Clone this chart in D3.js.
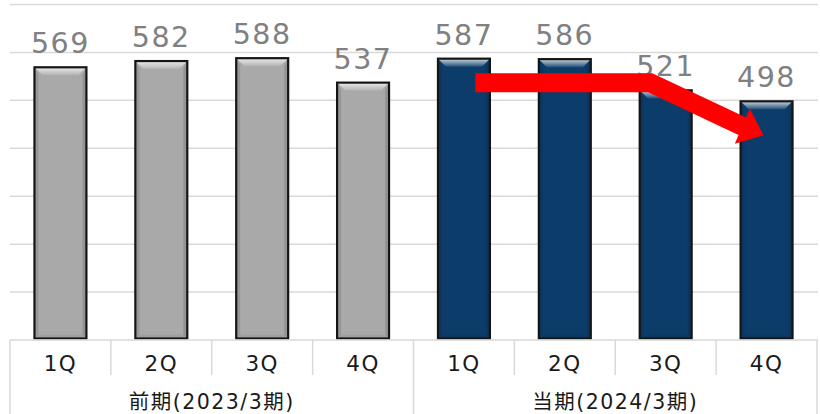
<!DOCTYPE html>
<html>
<head>
<meta charset="utf-8">
<script src="https://cdn.jsdelivr.net/npm/d3@7"></script>
<style>
  html, body { margin: 0; padding: 0; background: #fff; }
  svg { display: block; }
  text { font-family: "DejaVu Sans", "Noto Sans CJK JP", sans-serif; }
</style>
</head>
<body>
<svg id="chart" width="820" height="414"></svg>
<script>
// Quarterly figures, previous fiscal year vs. current fiscal year
const quarters = ["1Q", "2Q", "3Q", "4Q", "1Q", "2Q", "3Q", "4Q"];
const periods = ["前期(2023/3期)", "当期(2024/3期)"];
const prevValues = [569, 582, 588, 537];
const currValues = [587, 586, 521, 498];
const yTicks = [100, 200, 300, 400, 500, 600, 700];

const values = prevValues.concat(currValues);
const bars = values.map((v, i) => ({ i, v, group: i < prevValues.length ? 0 : 1 }));

const svg = d3.select("#chart");
const plotLeft = 10, plotRight = 817, plotBase = 340, plotTop = 4.5;

const x = d3.scaleBand().domain(d3.range(values.length)).range([plotLeft, plotRight])
  .paddingInner(0.485).paddingOuter(0.2425);
const y = d3.scaleLinear().domain([0, 700]).range([plotBase, plotTop]);
const step = x.step();
const bw = x.bandwidth();

// Gradients for the bevelled bar faces
const defs = svg.append("defs");
const topGrad = defs.append("linearGradient").attr("id", "bevelTop")
  .attr("x1", 0).attr("y1", 0).attr("x2", 0).attr("y2", 1);
topGrad.append("stop").attr("offset", "0%").attr("stop-color", "#fff").attr("stop-opacity", 0.8);
topGrad.append("stop").attr("offset", "100%").attr("stop-color", "#fff").attr("stop-opacity", 0.1);

// Horizontal gridlines
svg.append("g").selectAll("line").data(yTicks).join("line")
  .attr("x1", plotLeft).attr("x2", plotRight + 1)
  .attr("y1", d => y(d)).attr("y2", d => y(d))
  .attr("stroke", "#d9d9d9").attr("stroke-width", 1.5);

// Bars
const fills = ["#a9a9a9", "#0c3d6a"];
const bevel = 8;
const barG = svg.append("g").selectAll("g").data(bars).join("g");
barG.each(function (d) {
  const g = d3.select(this);
  const x0 = x(d.i), x1 = x0 + bw, y0 = y(d.v), y1 = plotBase - 1.5;
  g.append("rect").attr("x", x0).attr("y", y0).attr("width", bw).attr("height", y1 - y0)
    .attr("fill", fills[d.group]);
  const b = bevel;
  // top highlight
  g.append("polygon")
    .attr("points", [[x0, y0], [x1, y0], [x1 - b, y0 + b], [x0 + b, y0 + b]].join(" "))
    .attr("fill", "url(#bevelTop)");
  // side shading
  g.append("polygon")
    .attr("points", [[x0, y0], [x0 + b * 0.5, y0 + b], [x0 + b * 0.5, y1 - b * 0.5], [x0, y1]].join(" "))
    .attr("fill", "#000").attr("opacity", 0.1);
  g.append("polygon")
    .attr("points", [[x1, y0], [x1 - b * 0.5, y0 + b], [x1 - b * 0.5, y1 - b * 0.5], [x1, y1]].join(" "))
    .attr("fill", "#000").attr("opacity", 0.12);
  // bottom shading
  g.append("polygon")
    .attr("points", [[x0, y1], [x0 + b * 0.5, y1 - b * 0.5], [x1 - b * 0.5, y1 - b * 0.5], [x1, y1]].join(" "))
    .attr("fill", "#000").attr("opacity", 0.06);
  // outline
  g.append("rect").attr("x", x0).attr("y", y0).attr("width", bw).attr("height", y1 - y0)
    .attr("fill", "none").attr("stroke", "#151515").attr("stroke-width", 2.2);
});

// Baseline
svg.append("line").attr("x1", plotLeft).attr("x2", plotRight + 1).attr("y1", plotBase).attr("y2", plotBase)
  .attr("stroke", "#d9d9d9").attr("stroke-width", 1.5);

// Category dividers: short between quarters, full height at period boundaries
const nPer = prevValues.length;
const divs = d3.range(values.length + 1).map(k => ({
  k, xp: plotLeft + k * step, full: k % nPer === 0
}));
svg.append("g").selectAll("line").data(divs).join("line")
  .attr("x1", d => d.xp).attr("x2", d => d.xp)
  .attr("y1", plotBase).attr("y2", d => d.full ? 414 : 375)
  .attr("stroke", "#d9d9d9").attr("stroke-width", 1.5);

// Quarter labels
svg.append("g").selectAll("text").data(quarters).join("text")
  .attr("x", (d, i) => x(i) + bw / 2).attr("y", 371)
  .attr("text-anchor", "middle").attr("font-size", 21.5).attr("letter-spacing", 1.5)
  .attr("fill", "#1a1a1a")
  .text(d => d);

// Period labels
svg.append("g").selectAll("text").data(periods).join("text")
  .attr("x", (d, i) => plotLeft + (i * nPer + nPer / 2) * step).attr("y", 409)
  .attr("text-anchor", "middle").attr("font-size", 20.5).attr("letter-spacing", 1.5)
  .attr("fill", "#1a1a1a")
  .text(d => d);

// Value labels above bars
svg.append("g").selectAll("text").data(bars).join("text")
  .attr("x", d => x(d.i) + bw / 2).attr("y", d => y(d.v) - 14)
  .attr("text-anchor", "middle").attr("font-size", 28.5).attr("letter-spacing", 1.5)
  .attr("fill", "#808080")
  .text(d => d.v);

// Red trend arrow across the current period
const a0x = x(4) + bw * 0.72, a0y = y(currValues[0]) + 24;
const bendX = x(6) + bw * 0.2;
const tipX = x(7) + bw * 0.44, tipY = y(currValues[3]) + 34;
const ang = Math.atan2(tipY - a0y, tipX - bendX) * 0.93;
const headLen = 23, headHalf = 19;
const dx = Math.cos(ang), dy = Math.sin(ang);
const baseX = tipX - dx * headLen, baseY = tipY - dy * headLen;
const arrow = svg.append("g");
arrow.append("path")
  .attr("d", d3.line()([[a0x, a0y], [bendX, a0y], [baseX + dx * 2, baseY + dy * 2]]))
  .attr("fill", "none").attr("stroke", "#ff0000").attr("stroke-width", 19)
  .attr("stroke-linejoin", "miter");
arrow.append("polygon")
  .attr("points", [[tipX, tipY], [baseX - dy * headHalf, baseY + dx * headHalf],
                   [baseX + dy * headHalf, baseY - dx * headHalf]].join(" "))
  .attr("fill", "#ff0000");
</script>
</body>
</html>
